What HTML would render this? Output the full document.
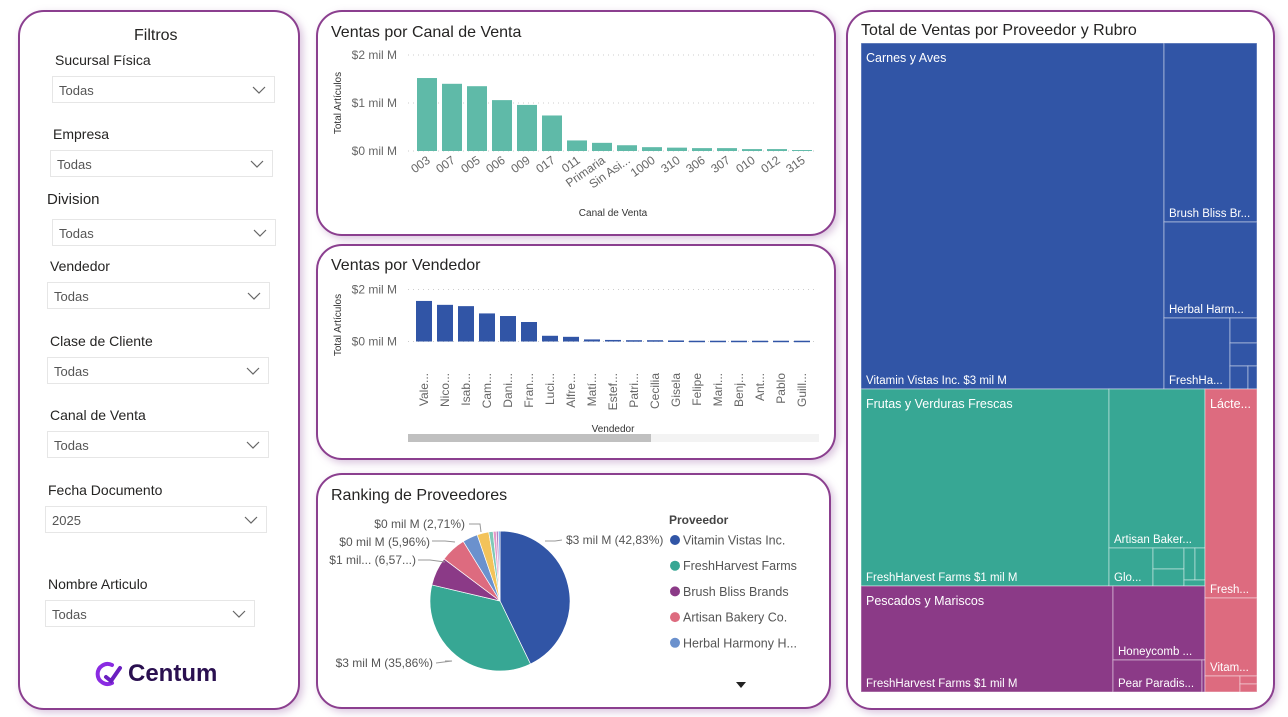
<!DOCTYPE html>
<html><head><meta charset="utf-8"><style>
body{margin:0;width:1288px;height:717px;background:#fff;position:relative;overflow:hidden;font-family:"Liberation Sans",sans-serif;color:#252423}
.panel{position:absolute;background:#fff;border:2px solid #8b3f8f;border-radius:26px;box-sizing:border-box;box-shadow:3px 3px 8px rgba(150,90,160,.35)}
.lbl{position:absolute;font-size:14px;color:#252423}
.dd{position:absolute;height:27px;border:1px solid #e6e6e6;box-sizing:border-box;font-size:13px;color:#555;line-height:27px;padding-left:6px;background:#fff}
.dd svg{position:absolute;right:8px;top:9px}
svg text{font-family:"Liberation Sans",sans-serif}
</style></head><body>
<div class="panel" style="left:18px;top:10px;width:282px;height:700px"></div>
<div class="panel" style="left:316px;top:10px;width:520px;height:226px"></div>
<div class="panel" style="left:316px;top:244px;width:520px;height:216px"></div>
<div class="panel" style="left:316px;top:473px;width:515px;height:236px"></div>
<div class="panel" style="left:846px;top:10px;width:429px;height:700px"></div>

<div class="lbl" style="left:134px;top:27px;font-size:16px">Filtros</div>
<div id="filters"></div>
<div style="position:absolute;left:92px;top:660px;height:28px;display:flex;align-items:center">
<svg width="32" height="28" viewBox="0 0 32 28"><path d="M20 5 A10 10 0 1 0 20 23" fill="none" stroke="#8a2be2" stroke-width="4" stroke-linecap="round"/><path d="M14 17 L19 21 L28 8" fill="none" stroke="#6a1fc0" stroke-width="4" stroke-linecap="round"/></svg>
<span style="font-size:24px;font-weight:bold;color:#2a1050;margin-left:4px">Centum</span></div>

<svg id="ch" width="1288" height="717" style="position:absolute;left:0;top:0"></svg>
<script>
// ---- filters
const fl=[["Sucursal Física",55,52,76,223,"Todas"],["Empresa",53,50,150,223,"Todas"],["Division",47,52,219,224,"Todas"],["Vendedor",50,47,282,223,"Todas"],["Clase de Cliente",50,47,357,222,"Todas"],["Canal de Venta",50,47,431,222,"Todas"],["Fecha Documento",48,45,506,222,"2025"],["Nombre Articulo",48,45,600,210,"Todas"]];
const F=document.getElementById('filters');
fl.forEach(f=>{
 const l=document.createElement('div');l.className='lbl';l.style.left=f[1]+'px';l.style.top=(f[3]-24)+'px';
 if(f[0]==='Division'){l.style.fontSize='15px';l.style.top=(f[3]-28)+'px';}
 l.textContent=f[0];
 
 
 F.appendChild(l);
 const d=document.createElement('div');d.className='dd';d.style.left=f[2]+'px';d.style.top=f[3]+'px';d.style.width=f[4]+'px';
 d.innerHTML=f[5]+'<svg width="14" height="8"><path d="M1 1 L7 7 L13 1" fill="none" stroke="#666" stroke-width="1.2"/></svg>';
 
 
 F.appendChild(d);
});
// ---- data
const canalCats=["003","007","005","006","009","017","011","Primaria","Sin Asi...","1000","310","306","307","010","012","315"];
const canalVals=[1.52,1.40,1.35,1.06,0.96,0.74,0.22,0.17,0.12,0.08,0.07,0.06,0.06,0.04,0.04,0.02];
const vendCats=["Vale...","Nico...","Isab...","Cam...","Dani...","Fran...","Luci...","Alfre...","Matí...","Estef...","Patri...","Cecilia","Gisela","Felipe","Mari...","Benj...","Ant...","Pablo","Guill..."];
const vendVals=[1.56,1.41,1.36,1.08,0.98,0.75,0.22,0.18,0.08,0.06,0.05,0.05,0.04,0.03,0.03,0.03,0.03,0.03,0.03];
const yTicks=["$0 mil M","$1 mil M","$2 mil M"];
const pieNames=["Vitamin Vistas Inc.","FreshHarvest Farms","Brush Bliss Brands","Artisan Bakery Co.","Herbal Harmony H...","Yellow","S7","S8","S9","S10"];
const pieVals=[42.83,35.86,6.57,5.96,3.5,2.71,1.0,0.7,0.5,0.37];
const pieColors=["#3155a6","#37a794","#8b3a87","#dd6b7f","#6b91cd","#f3c35a","#7fc8b8","#e59ac8","#b583c4","#4b8fe0"];
const S=document.getElementById('ch');const NS='http://www.w3.org/2000/svg';
function el(t,a,txt){const e=document.createElementNS(NS,t);for(const k in a)e.setAttribute(k,a[k]);if(txt!==undefined)e.textContent=txt;S.appendChild(e);return e;}
function title(x,y,t){const e=el('text',{x:x,y:y,'font-size':16,fill:'#252423'},t);}
// ---- chart 1
title(331,37,"Ventas por Canal de Venta");
const y1=v=>151-v*48;
[0,1,2].forEach(i=>{el('line',{x1:408,x2:818,y1:y1(i),y2:y1(i),stroke:'#ccc','stroke-dasharray':'1 4'});
 const t=el('text',{x:397,y:y1(i)+4,'text-anchor':'end','font-size':12,fill:'#666'},yTicks[i]);});
canalVals.forEach((v,i)=>{const x=417+i*25;
 const r=el('rect',{x:x,y:y1(v),width:20,height:v*48,fill:'#5fbaa8'});
 const t=el('text',{x:x+14,y:162,'text-anchor':'end','font-size':12,fill:'#666',transform:`rotate(-35 ${x+14} 162)`},canalCats[i]);});
let t1=el('text',{x:341,y:103,'text-anchor':'middle','font-size':10,fill:'#333',transform:'rotate(-90 341 103)'},"Total Artículos");
t1=el('text',{x:613,y:216,'text-anchor':'middle','font-size':10,fill:'#333'},"Canal de Venta");
// ---- chart 2
title(331,270,"Ventas por Vendedor");
const y2=v=>341.5-v*26;
[0,2].forEach(i=>{el('line',{x1:408,x2:818,y1:y2(i),y2:y2(i),stroke:'#ccc','stroke-dasharray':'1 4'});
 const t=el('text',{x:397,y:y2(i)+4,'text-anchor':'end','font-size':12,fill:'#666'},yTicks[i]);});
vendVals.forEach((v,i)=>{const x=416+i*21;
 const r=el('rect',{x:x,y:y2(v),width:16,height:Math.max(v*26,1.5),fill:'#3155a6'});
 const t=el('text',{x:x+12,y:373,'text-anchor':'end','font-size':12,fill:'#666',transform:`rotate(-90 ${x+12} 373)`},vendCats[i]);});
t1=el('text',{x:341,y:325,'text-anchor':'middle','font-size':10,fill:'#333',transform:'rotate(-90 341 325)'},"Total Artículos");
t1=el('text',{x:613,y:432,'text-anchor':'middle','font-size':10,fill:'#333'},"Vendedor");
el('rect',{x:408,y:434,width:411,height:8,fill:'#f3f3f3'});
t1=el('rect',{x:408,y:434,width:243,height:8,fill:'#c0c0c0'});
// ---- pie
title(331,500,"Ranking de Proveedores");
const cx=500,cy=601,R=70;let a0=0;const tot=pieVals.reduce((a,b)=>a+b,0);
pieVals.forEach((v,i)=>{const a1=a0+v/tot*2*Math.PI;
 const p=(a)=>[cx+R*Math.sin(a),cy-R*Math.cos(a)];const [x0,yy0]=p(a0),[x1,yy1]=p(a1);
 const s=el('path',{d:`M${cx},${cy} L${x0},${yy0} A${R},${R} 0 ${a1-a0>Math.PI?1:0} 1 ${x1},${yy1} Z`,fill:pieColors[i],stroke:'#fff','stroke-width':0.7});
 a0=a1;});
const pl=[["$3 mil M (42,83%)",566,544,"start",[[545,541],[555,541],[562,540]]],["$3 mil M (35,86%)",433,667,"end",[[445,661],[452,661],[436,663]]],["$1 mil... (6,57...)",416,564,"end",[[445,562],[430,560],[418,560]]],["$0 mil M (5,96%)",430,546,"end",[[455,542],[445,541],[432,541]]],["$0 mil M (2,71%)",465,528,"end",[[481,532],[480,524],[469,524]]]];
pl.forEach(l=>{el('polyline',{points:l[4].map(p=>p.join(',')).join(' '),fill:'none',stroke:'#999','stroke-width':1});
 const t=el('text',{x:l[1],y:l[2],'text-anchor':l[3],'font-size':12,fill:'#555'},l[0]);});
t1=el('text',{x:669,y:524,'font-size':12,'font-weight':'bold',fill:'#444'},"Proveedor");
for(let i=0;i<5;i++){const y=540+i*25.7;el('circle',{cx:675,cy:y,r:5,fill:pieColors[i]});
 const t=el('text',{x:683,y:y+4.5,'font-size':12.5,fill:'#555'},pieNames[i]);}
t1=el('path',{d:'M736 682 L746 682 L741 688 Z',fill:'#222'});
// ---- treemap
title(861,35,"Total de Ventas por Proveedor y Rubro");
const C={b:'#3155a6',t:'#37a794',p:'#8b3a87',k:'#dd6b7f'};
const rects=[
['b',861,43,1164,389,"Vitamin Vistas Inc. $3 mil M"],['b',1164,43,1257,222,"Brush Bliss Br..."],['b',1164,222,1257,318,"Herbal Harm..."],['b',1164,318,1230,389,"FreshHa..."],['b',1230,318,1257,343,""],['b',1230,343,1257,366,""],['b',1230,366,1248,389,""],['b',1248,366,1257,389,""],
['t',861,389,1109,586,"FreshHarvest Farms $1 mil M"],['t',1109,389,1205,548,"Artisan Baker..."],['t',1109,548,1153,586,"Glo..."],['t',1153,548,1184,569,""],['t',1153,569,1184,586,""],['t',1184,548,1195,580,""],['t',1195,548,1205,580,""],['t',1184,580,1205,586,""],
['p',861,586,1113,692,"FreshHarvest Farms $1 mil M"],['p',1113,586,1205,660,"Honeycomb ..."],['p',1113,660,1202,692,"Pear Paradis..."],['p',1202,660,1205,692,""],
['k',1205,389,1257,598,"Fresh..."],['k',1205,598,1257,676,"Vitam..."],['k',1205,676,1240,692,""],['k',1240,676,1257,684,""],['k',1240,684,1257,692,""]];
rects.forEach(r=>{const e=el('rect',{x:r[1],y:r[2],width:r[3]-r[1],height:r[4]-r[2],fill:C[r[0]],stroke:'rgba(255,255,255,0.45)','stroke-width':1});
 
 if(r[5]){const t=el('text',{x:r[1]+5,y:r[4]-5,'font-size':11.5,fill:'#fff'},r[5]);}});
[["Carnes y Aves",866,62],["Frutas y Verduras Frescas",866,408],["Pescados y Mariscos",866,605],["Lácte...",1210,408]].forEach(g=>{
 const t=el('text',{x:g[1],y:g[2],'font-size':12.5,fill:'#fff'},g[0]);});
</script>
</body></html>
